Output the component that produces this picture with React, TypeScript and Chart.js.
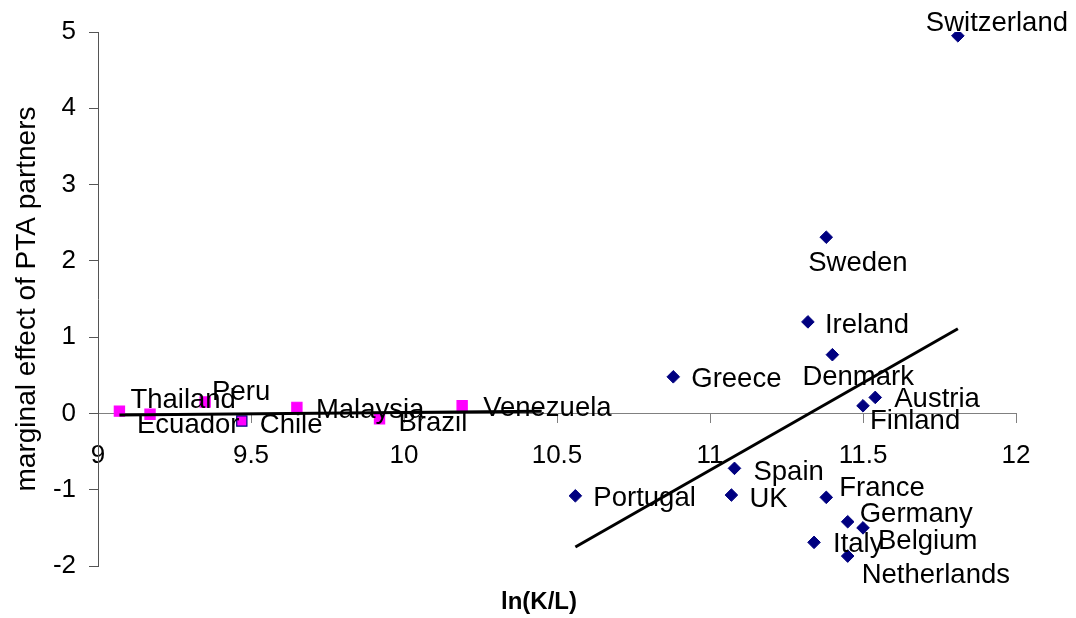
import React, { useEffect, useRef } from 'react';
import { Chart, registerables } from 'chart.js';

Chart.register(...registerables);

// ---- data ----
const oecdNames = ['Switzerland', 'Sweden', 'Ireland', 'Denmark', 'Greece', 'Austria', 'Finland', 'Spain', 'Portugal', 'UK', 'France', 'Germany', 'Belgium', 'Italy', 'Netherlands'];
const oecdX = [11.81, 11.38, 11.32, 11.40, 10.88, 11.54, 11.50, 11.08, 10.56, 11.07, 11.38, 11.45, 11.50, 11.34, 11.45];
const oecdY = [4.95, 2.31, 1.20, 0.77, 0.48, 0.21, 0.10, -0.72, -1.08, -1.07, -1.10, -1.42, -1.50, -1.69, -1.87];

const devNames = ['Thailand', 'Ecuador', 'Peru', 'Chile', 'Malaysia', 'Brazil', 'Venezuela'];
const devX = [9.07, 9.17, 9.35, 9.47, 9.65, 9.92, 10.19];
const devY = [0.03, -0.01, 0.15, -0.10, 0.08, -0.07, 0.10];

const devTrendX = [9.07, 10.45];
const devTrendY = [-0.02, 0.03];
const oecdTrendX = [10.56, 11.81];
const oecdTrendY = [-1.75, 1.11];

const xTickValues = [9, 9.5, 10, 10.5, 11, 11.5, 12];
const xTickLabels = ['9', '9.5', '10', '10.5', '11', '11.5', '12'];
const yTickValues = [-2, -1, 0, 1, 2, 3, 4, 5];

const xTitle = 'ln(K/L)';
const yTitle = 'marginal effect of PTA partners';

// label placement (pixel offsets of text left / text middle from the marker)
const labelOffsets: Record<string, [number, number]> = {
  Switzerland: [-32, -14],
  Sweden: [-18, 24],
  Ireland: [17, 2],
  Denmark: [-30, 21],
  Greece: [18, 1],
  Austria: [19, 0],
  Finland: [7, 14],
  Spain: [19, 2],
  Portugal: [18, 1],
  UK: [18, 2],
  France: [13, -11],
  Germany: [12, -9],
  Belgium: [15, 12],
  Italy: [19, 0],
  Netherlands: [14, 17],
  Thailand: [11, -13],
  Ecuador: [-13, 9],
  Peru: [7, -12],
  Chile: [18, 2],
  Malaysia: [19, 1],
  Brazil: [19, 3],
  Venezuela: [21, 1],
};

const FONT = "'Liberation Sans', Arial, Helvetica, sans-serif";
const NAVY = '#000080';
const MAGENTA = '#FF00FF';

const toPts = (xs: number[], ys: number[]) => xs.map((x, i) => ({ x, y: ys[i] }));

const labelPlugin = {
  id: 'pointLabels',
  afterDatasetsDraw(chart: any) {
    const ctx = chart.ctx;
    ctx.save();
    ctx.fillStyle = '#000';
    ctx.font = `27.5px ${FONT}`;
    ctx.textAlign = 'left';
    ctx.textBaseline = 'middle';
    chart.data.datasets.forEach((ds: any, di: number) => {
      if (!ds.names) return;
      const meta = chart.getDatasetMeta(di);
      meta.data.forEach((el: any, i: number) => {
        const name = ds.names[i];
        const off = labelOffsets[name] || [12, 0];
        ctx.fillText(name, el.x + off[0], el.y + off[1] + 2);
      });
    });
    // x axis title
    ctx.font = `bold 24px ${FONT}`;
    ctx.textAlign = 'center';
    ctx.fillText(xTitle, chart.width / 2 + 1, 602);
    ctx.restore();
  },
};

export default function App() {
  const ref = useRef<HTMLCanvasElement | null>(null);

  useEffect(() => {
    if (!ref.current) return;
    const chart = new Chart(ref.current, {
      type: 'scatter',
      data: {
        datasets: [
          {
            label: 'trend developing',
            data: toPts(devTrendX, devTrendY),
            showLine: true,
            borderColor: '#000',
            borderWidth: 3,
            pointRadius: 0,
            fill: false,
            order: 0,
          } as any,
          {
            label: 'trend OECD',
            data: toPts(oecdTrendX, oecdTrendY),
            showLine: true,
            borderColor: '#000',
            borderWidth: 3,
            pointRadius: 0,
            fill: false,
            order: 0,
          } as any,
          {
            label: 'developing',
            names: devNames,
            data: toPts(devX, devY),
            pointStyle: 'rect',
            pointRadius: 7.2,
            backgroundColor: MAGENTA,
            borderColor: (c: any) => (devNames[c.dataIndex] === 'Chile' ? NAVY : MAGENTA),
            borderWidth: 1.2,
            order: 2,
          } as any,
          {
            label: 'OECD',
            names: oecdNames,
            data: toPts(oecdX, oecdY),
            pointStyle: 'rectRot',
            pointRadius: 6.3,
            backgroundColor: NAVY,
            borderColor: NAVY,
            borderWidth: 1,
            order: 1,
          } as any,
        ],
      },
      options: {
        responsive: false,
        animation: false,
        events: [],
        layout: { padding: { left: 0, top: 32, right: 60, bottom: 52 } },
        plugins: {
          legend: { display: false },
          tooltip: { enabled: false },
          title: { display: false },
        },
        scales: {
          x: {
            type: 'linear',
            position: { y: 0 } as any,
            min: 9,
            max: 12,
            afterBuildTicks: (s: any) => {
              s.ticks = xTickValues.map((v) => ({ value: v }));
            },
            grid: {
              display: true,
              drawOnChartArea: false,
              drawTicks: true,
              tickLength: 9,
              color: '#808080',
              lineWidth: 1,
            },
            border: { display: true, color: '#808080', width: 1 },
            ticks: {
              color: '#000',
              padding: 18,
              maxRotation: 0,
              autoSkip: false,
              font: { family: FONT, size: 26 },
              callback: (_v: any, i: number) => xTickLabels[i],
            },
          },
          y: {
            type: 'linear',
            position: 'left',
            min: -2,
            max: 5,
            afterBuildTicks: (s: any) => {
              s.ticks = yTickValues.map((v) => ({ value: v }));
            },
            afterFit: (s: any) => {
              s.width = 98;
            },
            grid: {
              display: true,
              drawOnChartArea: false,
              drawTicks: true,
              tickLength: 9,
              color: '#555',
              lineWidth: 1,
            },
            border: { display: true, color: '#555', width: 1 },
            ticks: {
              color: '#000',
              padding: 13,
              autoSkip: false,
              font: { family: FONT, size: 26 },
              callback: (v: any) => String(v),
            },
            title: {
              display: true,
              text: yTitle,
              color: '#000',
              font: { family: FONT, size: 28 },
              padding: { top: 10, bottom: 0 },
            },
          },
        },
      },
      plugins: [labelPlugin],
    });
    return () => chart.destroy();
  }, []);

  return (
    <div style={{ position: 'absolute', left: 0, top: 0, width: 1076, height: 618, background: '#fff' }}>
      <canvas ref={ref} width={1076} height={618} style={{ display: 'block' }} />
    </div>
  );
}
